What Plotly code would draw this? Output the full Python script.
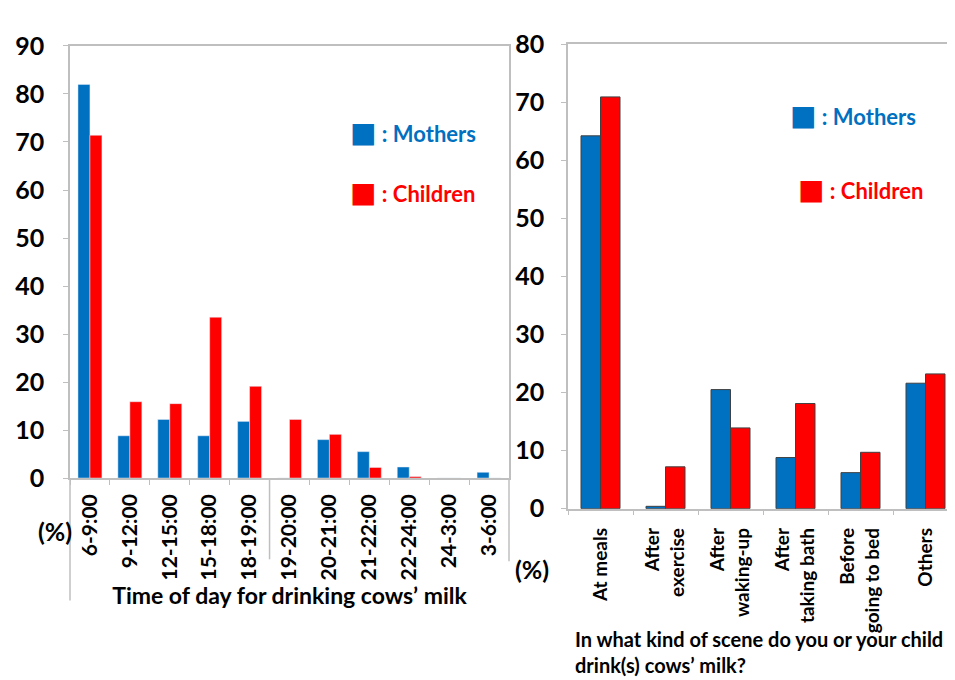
import plotly.graph_objects as go

# ---- data ----
time_categories = ["6-9:00", "9-12:00", "12-15:00", "15-18:00", "18-19:00", "19-20:00",
                   "20-21:00", "21-22:00", "22-24:00", "24-3:00", "3-6:00"]
mothers_time = [82.0, 8.8, 12.2, 8.8, 11.8, 0, 8.0, 5.5, 2.3, 0, 1.2]
children_time = [71.4, 15.9, 15.5, 33.5, 19.1, 12.2, 9.1, 2.2, 0.3, 0, 0]

scene_categories = ["At meals", "After<br>exercise", "After<br>waking-up",
                    "After<br>taking bath", "Before<br>going to bed", "Others"]
mothers_scene = [64.2, 0.4, 20.5, 8.8, 6.2, 21.6]
children_scene = [70.9, 7.2, 13.9, 18.1, 9.7, 23.2]

left_yticks = list(range(0, 91, 10))
right_yticks = list(range(0, 81, 10))

BLUE = "#0070C0"
RED = "#FF0000"
FONT = "Lato"
W, H = 955, 680

def px_x(v):
    return v / W

def px_y(v):
    return 1 - v / H

fig = go.Figure()
fig.add_trace(go.Bar(x=time_categories, y=mothers_time, name="Mothers",
                     marker_color=BLUE, xaxis="x", yaxis="y", showlegend=False))
fig.add_trace(go.Bar(x=time_categories, y=children_time, name="Children",
                     marker_color=RED, xaxis="x", yaxis="y", showlegend=False))
fig.add_trace(go.Bar(x=scene_categories, y=mothers_scene, name="Mothers",
                     marker=dict(color=BLUE, line=dict(color="#404040", width=1)),
                     xaxis="x2", yaxis="y2", showlegend=False))
fig.add_trace(go.Bar(x=scene_categories, y=children_scene, name="Children",
                     marker=dict(color=RED, line=dict(color="#404040", width=1)),
                     xaxis="x2", yaxis="y2", showlegend=False))

axis_line = "#BFBFBF"
common_x = dict(type="category", showline=True, linecolor=axis_line, linewidth=1.5,
                mirror=True, ticks="outside", tickson="boundaries", ticklen=5,
                tickcolor=axis_line, tickangle=-90, showgrid=False)
common_y = dict(showline=True, linecolor=axis_line, linewidth=1.5, mirror=True,
                ticks="outside", ticklen=5, tickcolor=axis_line, showgrid=False,
                zeroline=False,
                tickfont=dict(family=FONT, size=25, color="black", weight="bold"))

fig.update_layout(
    width=W, height=H,
    margin=dict(l=0, r=0, t=0, b=0),
    paper_bgcolor="white", plot_bgcolor="white",
    barmode="group", bargap=0.4, bargroupgap=0,
    xaxis=dict(domain=[px_x(62), px_x(501)], anchor="y", ticklabelstandoff=6,
               tickfont=dict(family=FONT, size=21, color="black", weight="bold"),
               title=dict(text="Time of day for drinking cows’ milk", standoff=8,
                          font=dict(family=FONT, size=23, color="black", weight="bold")),
               **common_x),
    yaxis=dict(domain=[px_y(475), px_y(23)], anchor="x", range=[0, 90],
               tickvals=left_yticks, ticklabelstandoff=14, **common_y),
    xaxis2=dict(domain=[px_x(560), px_x(950)], anchor="y2", ticklabelstandoff=10,
                tickfont=dict(family=FONT, size=19, color="black", weight="bold"),
                **common_x),
    yaxis2=dict(domain=[px_y(507), px_y(21)], anchor="x2", range=[0, 80],
                tickvals=right_yticks, ticklabelstandoff=12, **common_y),
)

ann_font = dict(family=FONT, size=22, weight="bold")
sq = "<span style='font-family:DejaVu Sans;font-size:28px'>■</span>"
annotations = [
    dict(text=f"{sq} : Mothers", x=px_x(340), y=px_y(113), font=dict(color=BLUE, **ann_font)),
    dict(text=f"{sq} : Children", x=px_x(340), y=px_y(176), font=dict(color=RED, **ann_font)),
    dict(text=f"{sq} : Mothers", x=px_x(780), y=px_y(96), font=dict(color=BLUE, **ann_font)),
    dict(text=f"{sq} : Children", x=px_x(788), y=px_y(173), font=dict(color=RED, **ann_font)),
]
for a in annotations:
    fig.add_annotation(xref="paper", yref="paper", xanchor="left", yanchor="middle",
                       showarrow=False, **a)

fig.add_annotation(text="(%)", xref="paper", yref="paper", x=px_x(28), y=px_y(548),
                   showarrow=False, font=dict(family=FONT, size=25, color="black", weight="bold"))
fig.add_annotation(text="(%)", xref="paper", yref="paper", x=px_x(524), y=px_y(588),
                   showarrow=False, font=dict(family=FONT, size=25, color="black", weight="bold"))
fig.add_annotation(text="In what kind of scene do you or your child<br>drink(s) cows’ milk?",
                   xref="paper", yref="paper", x=px_x(565), y=px_y(657), xanchor="left",
                   yanchor="middle", align="left", showarrow=False,
                   font=dict(family=FONT, size=20, color="black", weight="bold"))

# decorative border extensions as in the original figure
fig.add_shape(type="line", xref="paper", yref="paper", x0=px_x(62), x1=px_x(62),
              y0=px_y(475), y1=px_y(603), line=dict(color=axis_line, width=1.5))
fig.add_shape(type="line", xref="paper", yref="paper", x0=px_x(501), x1=px_x(501),
              y0=px_y(475), y1=px_y(562), line=dict(color=axis_line, width=1.5))
fig.add_shape(type="line", xref="x", yref="paper", x0=4.5, x1=4.5,
              y0=px_y(475), y1=px_y(560), line=dict(color=axis_line, width=1.5))

fig.write_html("out.html")
